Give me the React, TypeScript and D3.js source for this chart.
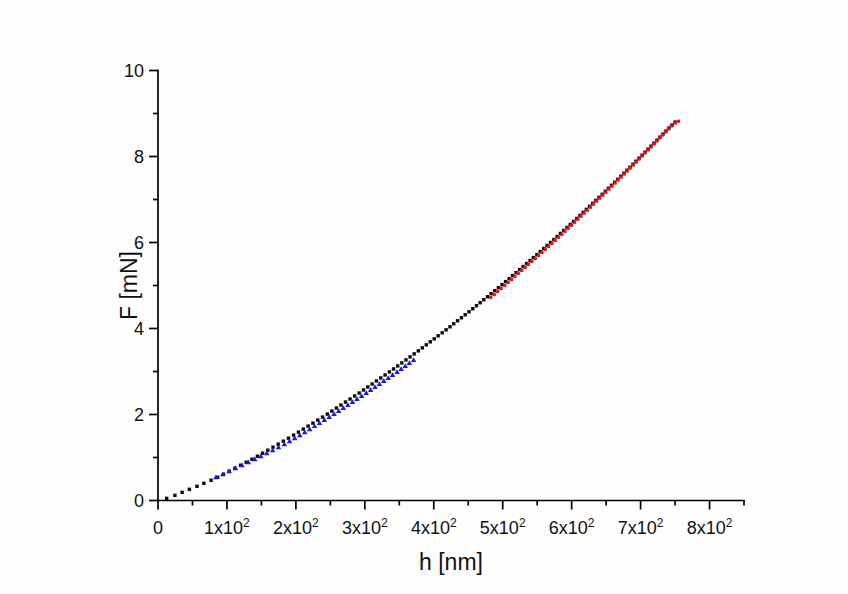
import React from "react";
import * as d3 from "d3";

// Black: measured loading curve (h in nm, F in mN)
const blackH = [12.6, 24.5, 35, 45.5, 56.5, 66.5, 77, 86.5, 95, 103.2, 111.5, 119.8, 128, 136.3, 144.2, 151.7, 159.3, 166.8, 174.3, 181.8, 189.3, 196.7, 203.7, 210.7, 217.7, 224.7, 231.7, 238.7, 245.6, 252.2, 258.8, 265.4, 272.0, 278.6, 285.2, 291.8, 298.1, 304.3, 310.6, 316.9, 323.2, 329.4, 335.7, 341.7, 347.7, 353.7, 359.7, 365.6, 371.6, 377.6, 383.4, 389.2, 394.9, 400.7, 406.4, 412.2, 417.9, 423.5, 429.0, 434.5, 440.1, 445.6, 451.1, 456.6, 462.0, 467.3, 472.6, 477.9, 483.2, 488.5, 493.8, 499.1, 504.2, 509.3, 514.3, 519.4, 524.5, 529.6, 534.7, 539.7, 544.6, 549.6, 554.5, 559.5, 564.4, 569.4, 574.2, 579.0, 583.7, 588.5, 593.3, 598.0, 602.8, 607.5, 612.1, 616.7, 621.3, 626.0, 630.6, 635.2, 639.7, 644.3, 648.8, 653.3, 657.8, 662.3, 666.9, 671.3, 675.7, 680.1, 684.6, 689.0, 693.4, 697.8, 702.2, 706.5, 710.8, 715.1, 719.5, 723.8, 728.1, 732.5, 736.8, 741.2, 745.6, 750.0];
const blackF = [0.05, 0.12, 0.19, 0.26, 0.33, 0.40, 0.47, 0.54, 0.61, 0.68, 0.75, 0.82, 0.89, 0.96, 1.03, 1.10, 1.17, 1.24, 1.31, 1.38, 1.45, 1.52, 1.59, 1.66, 1.73, 1.80, 1.87, 1.94, 2.01, 2.08, 2.15, 2.22, 2.29, 2.36, 2.43, 2.50, 2.57, 2.64, 2.71, 2.78, 2.85, 2.92, 2.99, 3.06, 3.13, 3.20, 3.27, 3.34, 3.41, 3.48, 3.55, 3.62, 3.69, 3.76, 3.83, 3.90, 3.97, 4.04, 4.11, 4.18, 4.25, 4.32, 4.39, 4.46, 4.53, 4.60, 4.67, 4.74, 4.81, 4.88, 4.95, 5.02, 5.09, 5.16, 5.23, 5.30, 5.37, 5.44, 5.51, 5.58, 5.65, 5.72, 5.79, 5.86, 5.93, 6.00, 6.07, 6.14, 6.21, 6.28, 6.35, 6.42, 6.49, 6.56, 6.63, 6.70, 6.77, 6.84, 6.91, 6.98, 7.05, 7.12, 7.19, 7.26, 7.33, 7.40, 7.47, 7.54, 7.61, 7.68, 7.75, 7.82, 7.89, 7.96, 8.03, 8.10, 8.17, 8.24, 8.31, 8.38, 8.45, 8.52, 8.59, 8.66, 8.73, 8.80];

// Blue: low-depth fit
const blueH = [84, 94, 103.2, 112.5, 121.8, 131, 140.3, 149.2, 157.7, 166.3, 174.8, 183.3, 190.8, 198.3, 205.7, 212.9, 220, 227.1, 234.2, 241.3, 248.4, 255.4, 262.1, 268.8, 275.4, 282, 288.7, 295.4, 302.1, 308.5, 314.8, 321.2, 327.6, 334, 340.3, 346.7, 352.7, 358.7, 364.7, 370.7];
const blueF = [0.53, 0.60, 0.67, 0.74, 0.81, 0.88, 0.95, 1.02, 1.09, 1.16, 1.23, 1.30, 1.37, 1.44, 1.51, 1.58, 1.65, 1.72, 1.79, 1.86, 1.93, 2.00, 2.07, 2.14, 2.21, 2.28, 2.35, 2.42, 2.49, 2.56, 2.63, 2.70, 2.77, 2.84, 2.91, 2.98, 3.05, 3.12, 3.19, 3.26];

// Red: high-depth fit
const redH = [482.6, 487.7, 492.8, 497.8, 502.8, 507.9, 512.8, 517.7, 522.6, 527.6, 532.5, 537.5, 542.4, 547.3, 552.1, 557.0, 561.8, 566.6, 571.5, 576.3, 581.0, 585.8, 590.4, 595.1, 599.8, 604.4, 609.1, 613.7, 618.2, 622.7, 627.3, 631.8, 636.3, 640.8, 645.2, 649.7, 654.1, 658.5, 662.9, 667.3, 671.7, 676.0, 680.3, 684.6, 689.0, 693.3, 697.6, 701.9, 706.1, 710.4, 714.6, 718.8, 723.2, 727.4, 731.6, 735.9, 740.1, 744.4, 750.5, 755.0];
const redF = [4.72, 4.79, 4.86, 4.93, 5.00, 5.07, 5.14, 5.21, 5.28, 5.35, 5.42, 5.49, 5.56, 5.63, 5.70, 5.77, 5.84, 5.91, 5.98, 6.05, 6.12, 6.19, 6.26, 6.33, 6.40, 6.47, 6.54, 6.61, 6.68, 6.75, 6.82, 6.89, 6.96, 7.03, 7.10, 7.17, 7.24, 7.31, 7.38, 7.45, 7.52, 7.59, 7.66, 7.73, 7.80, 7.87, 7.94, 8.01, 8.08, 8.15, 8.22, 8.29, 8.36, 8.43, 8.50, 8.57, 8.64, 8.71, 8.78, 8.82];

const xMajorTicks = [0, 100, 200, 300, 400, 500, 600, 700, 800];
const xTickMantissa = ["0", "1", "2", "3", "4", "5", "6", "7", "8"];
const xMinorTicks = [50, 150, 250, 350, 450, 550, 650, 750, 850];
const yMajorTicks = [0, 2, 4, 6, 8, 10];
const yMinorTicks = [1, 3, 5, 7, 9];

const xLabel = "h [nm]";
const yLabel = "F [mN]";

const W = 848;
const H = 594;
const FONT = "'Liberation Sans', Arial, sans-serif";

export default function App() {
  const x = d3.scaleLinear().domain([0, 850]).range([158, 744]);
  const y = d3.scaleLinear().domain([0, 10]).range([500.5, 70.5]);
  const tri = d3.symbol().type(d3.symbolTriangle).size(13)() as string;

  const black = blackH.map((h, i) => ({ h, f: blackF[i] }));
  const blue = blueH.map((h, i) => ({ h, f: blueF[i] }));
  const red = redH.map((h, i) => ({ h, f: redF[i] }));

  return (
    <div style={{ position: "fixed", left: 0, top: 0, width: W, height: H, background: "#fff" }}>
      <svg width={W} height={H} style={{ display: "block" }}>
        <rect x={0} y={0} width={W} height={H} fill="#fdfdfd" />
        <g>
          {black.map((d, i) => (
            <rect key={"b" + i} x={x(d.h) - 1.7} y={y(d.f) - 1.7} width={3.4} height={3.4} fill="#0a0a0a" />
          ))}
          {red.map((d, i) => (
            <rect key={"r" + i} x={x(d.h) - 1.6} y={y(d.f) - 1.6} width={3.2} height={3.2} fill="#e8141b" />
          ))}
          {blue.map((d, i) => (
            <path key={"u" + i} d={tri} transform={`translate(${x(d.h)},${y(d.f)})`} fill="#1a1ad8" />
          ))}
        </g>
        <g stroke="#000" strokeWidth={1.7} fill="none">
          <line x1={x(0)} x2={x(0)} y1={y(10) - 0.8} y2={y(0) + 0.8} />
          <line x1={x(0) - 0.8} x2={x(850) + 0.8} y1={y(0)} y2={y(0)} />
          {yMajorTicks.map((t) => (
            <line key={"ym" + t} x1={x(0) - 9} x2={x(0)} y1={y(t)} y2={y(t)} />
          ))}
          {yMinorTicks.map((t) => (
            <line key={"yn" + t} x1={x(0) - 5} x2={x(0)} y1={y(t)} y2={y(t)} />
          ))}
          {xMajorTicks.map((t) => (
            <line key={"xm" + t} x1={x(t)} x2={x(t)} y1={y(0)} y2={y(0) + 9} />
          ))}
          {xMinorTicks.map((t) => (
            <line key={"xn" + t} x1={x(t)} x2={x(t)} y1={y(0)} y2={y(0) + 5} />
          ))}
        </g>
        <g fontFamily={FONT} fontSize={18} fill="#111">
          {yMajorTicks.map((t) => (
            <text key={"yl" + t} x={x(0) - 14} y={y(t)} dy="0.36em" textAnchor="end">
              {t}
            </text>
          ))}
          {xMajorTicks.map((t, i) => (
            <text key={"xl" + t} x={x(t)} y={534} textAnchor="middle">
              {t === 0 ? (
                "0"
              ) : (
                <>
                  {xTickMantissa[i] + "x10"}
                  <tspan fontSize={12} dy={-7}>2</tspan>
                </>
              )}
            </text>
          ))}
        </g>
        <text x={(x(0) + x(850)) / 2} y={570} textAnchor="middle" fontFamily={FONT} fontSize={23} fill="#111">
          {xLabel}
        </text>
        <text
          transform={`translate(137,${(y(0) + y(10)) / 2}) rotate(-90)`}
          textAnchor="middle"
          fontFamily={FONT}
          fontSize={23}
          fill="#111"
        >
          {yLabel}
        </text>
      </svg>
    </div>
  );
}
